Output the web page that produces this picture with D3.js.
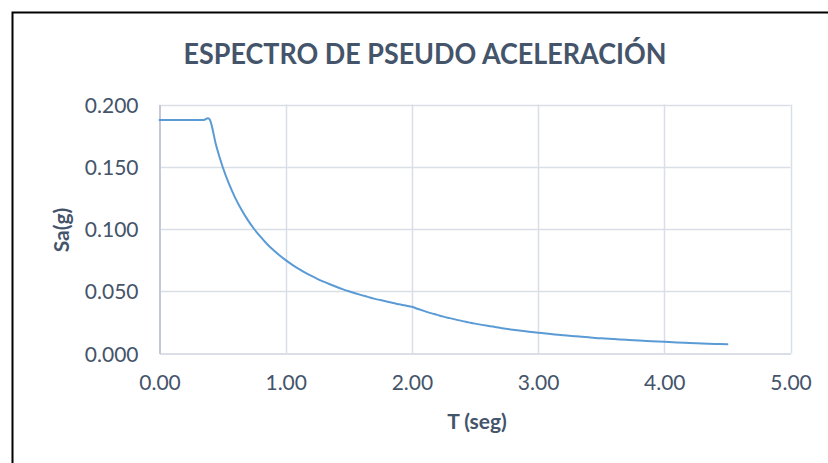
<!DOCTYPE html>
<html>
<head>
<meta charset="utf-8">
<script src="https://cdn.jsdelivr.net/npm/d3@7"></script>
<style>
  html, body { margin: 0; padding: 0; background: #fff; }
  svg { display: block; font-family: Lato, "Open Sans", sans-serif; }
</style>
</head>
<body>
<svg id="chart" width="828" height="463"></svg>
<script>
// Pseudo-acceleration spectrum: period T (s) and spectral acceleration Sa (g)
const periods = [
  0.00, 0.05, 0.10, 0.15, 0.20, 0.25, 0.30, 0.35, 0.40, 0.45,
  0.50, 0.55, 0.60, 0.65, 0.70, 0.75, 0.80, 0.85, 0.90, 0.95,
  1.00, 1.05, 1.10, 1.15, 1.20, 1.25, 1.30, 1.35, 1.40, 1.45,
  1.50, 1.55, 1.60, 1.65, 1.70, 1.75, 1.80, 1.85, 1.90, 1.95,
  2.00, 2.05, 2.10, 2.15, 2.20, 2.25, 2.30, 2.35, 2.40, 2.45,
  2.50, 2.60, 2.70, 2.80, 2.90, 3.00, 3.10, 3.20, 3.30, 3.40,
  3.50, 3.60, 3.70, 3.80, 3.90, 4.00, 4.10, 4.20, 4.30, 4.40, 4.50
];
const saValues = [
  0.1875, 0.1875, 0.1875, 0.1875, 0.1875, 0.1875, 0.1875, 0.1875, 0.1875, 0.1667,
  0.1500, 0.1364, 0.1250, 0.1154, 0.1071, 0.1000, 0.0938, 0.0882, 0.0833, 0.0789,
  0.0750, 0.0714, 0.0682, 0.0652, 0.0625, 0.0600, 0.0577, 0.0556, 0.0536, 0.0517,
  0.0500, 0.0484, 0.0469, 0.0455, 0.0441, 0.0429, 0.0417, 0.0405, 0.0395, 0.0385,
  0.0375, 0.0357, 0.0340, 0.0324, 0.0310, 0.0296, 0.0284, 0.0272, 0.0260, 0.0250,
  0.0240, 0.0222, 0.0206, 0.0191, 0.0178, 0.0167, 0.0156, 0.0146, 0.0138, 0.0130,
  0.0122, 0.0116, 0.0110, 0.0104, 0.0099, 0.0094, 0.0089, 0.0085, 0.0081, 0.0077, 0.0074
];
const xTicks = [0, 1, 2, 3, 4, 5];
const yTicks = [0, 0.05, 0.10, 0.15, 0.20];
const titleText = "ESPECTRO DE PSEUDO ACELERACIÓN";
const xLabel = "T (seg)";
const yLabel = "Sa(g)";

const svg = d3.select("#chart");
const textColor = "#44546A";
const gridColor = "#D9DEE7";

const plot = { left: 159.5, right: 790.5, top: 104.5, bottom: 353.5 };

const x = d3.scaleLinear().domain([0, 5]).range([plot.left, plot.right]);
const y = d3.scaleLinear().domain([0, 0.2]).range([plot.bottom, plot.top]);

// outer frame (only top and left edges fall inside the page)
svg.append("path")
  .attr("d", "M12.5,463 L12.5,12.5 L828,12.5")
  .attr("fill", "none")
  .attr("stroke", "#000")
  .attr("stroke-width", 2);

// title
svg.append("text")
  .attr("x", 183.5)
  .attr("y", 63.5)
  .attr("textLength", 483)
  .attr("lengthAdjust", "spacingAndGlyphs")
  .attr("font-size", 29)
  .attr("font-weight", "bold")
  .attr("fill", textColor)
  .text(titleText);

// horizontal gridlines
svg.append("g")
  .selectAll("line")
  .data(yTicks.filter(d => d > 0))
  .join("line")
  .attr("x1", plot.left).attr("x2", plot.right)
  .attr("y1", d => Math.round(y(d)) + 0.5)
  .attr("y2", d => Math.round(y(d)) + 0.5)
  .attr("stroke", gridColor)
  .attr("stroke-width", 1.5);

// vertical gridlines
svg.append("g")
  .selectAll("line")
  .data(xTicks.filter(d => d > 0))
  .join("line")
  .attr("y1", plot.top).attr("y2", plot.bottom)
  .attr("x1", d => Math.round(x(d)) + 0.5)
  .attr("x2", d => Math.round(x(d)) + 0.5)
  .attr("stroke", gridColor)
  .attr("stroke-width", 1.5);

// axes
const xAxis = d3.axisBottom(x).tickValues(xTicks).tickSize(0).tickPadding(22)
  .tickFormat(d3.format(".2f"));
const yAxis = d3.axisLeft(y).tickValues(yTicks).tickSize(0).tickPadding(21)
  .tickFormat(d3.format(".3f"));

const gx = svg.append("g").attr("transform", `translate(0,${plot.bottom})`).call(xAxis);
const gy = svg.append("g").attr("transform", `translate(${plot.left},0)`).call(yAxis);

gx.select(".domain").attr("stroke", gridColor).attr("stroke-width", 2);
gy.select(".domain").attr("stroke", "#C3CAD6").attr("stroke-width", 2);
[gx, gy].forEach(g => g.selectAll("text")
  .attr("font-family", "Lato, 'Open Sans', sans-serif")
  .attr("font-size", 21)
  .attr("fill", textColor));
gx.selectAll("text").attr("dy", "0.71em");
gy.selectAll("text").attr("dy", "0.36em");

// axis titles
svg.append("text")
  .attr("x", 477).attr("y", 429)
  .attr("text-anchor", "middle")
  .attr("font-size", 21).attr("font-weight", "bold")
  .attr("fill", textColor)
  .text(xLabel);

svg.append("text")
  .attr("transform", "translate(69,230) rotate(-90)")
  .attr("text-anchor", "middle")
  .attr("font-size", 21).attr("font-weight", "bold")
  .attr("fill", textColor)
  .text(yLabel);

// spectrum curve (smoothed like a spreadsheet scatter line)
const points = periods.map((t, i) => [t, saValues[i]]);
const line = d3.line()
  .x(d => x(d[0]))
  .y(d => y(d[1]))
  .curve(d3.curveCardinal.tension(0));

svg.append("path")
  .datum(points)
  .attr("d", line)
  .attr("fill", "none")
  .attr("stroke", "#5B9BD5")
  .attr("stroke-width", 2)
  .attr("stroke-linejoin", "round")
  .attr("stroke-linecap", "round");
</script>
</body>
</html>
